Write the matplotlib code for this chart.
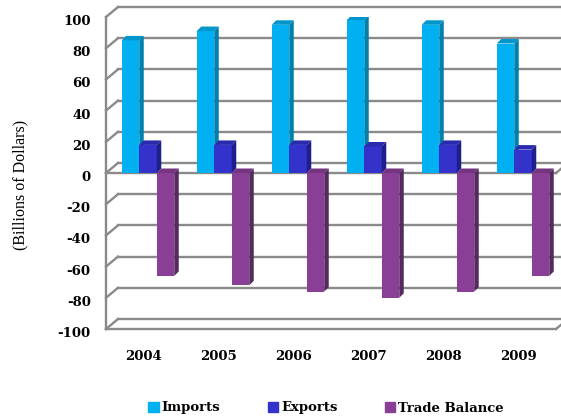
import matplotlib
matplotlib.use("Agg")
import matplotlib.pyplot as plt
from matplotlib.patches import Polygon, Patch
from matplotlib.transforms import ScaledTranslation

years = ["2004", "2005", "2006", "2007", "2008", "2009"]
imports = [85, 91, 95, 98, 95, 83]
exports = [18, 18, 18, 17, 18, 15]
balance = [-66, -72, -76, -80, -76, -66]
series_names = ["Imports", "Exports", "Trade Balance"]
yticks = list(range(-100, 101, 20))

# front face / side / top colours per series
colors = [("#00b0f0", "#0080ad", "#0096cc"),
          ("#3333cc", "#1f1f8c", "#2a2aae"),
          ("#8a3f96", "#552a5e", "#743480")]

W, H = 561, 418
fig = plt.figure(figsize=(W / 100, H / 100), dpi=100)
ax = fig.add_axes([106 / W, 89 / H, 450 / W, 312 / H])
ax.set_xlim(-0.5, 5.5)
ax.set_ylim(-100, 100)

# pixel -> data unit factors
px = 1 / 75.0
py = 200 / 312.0
bx, by = 12 * px, 10 * py      # back wall shift
dx, dy = 4.5 * px, 4.5 * py    # bar depth
w = 17.5 * px
offsets = [-13 * px, 4.5 * px, 22 * px]
gray = "#8a8a8a"

# back wall gridlines + left wall diagonals
for v in yticks:
    ax.plot([-0.5 + bx, 5.5 + bx + 0.2], [v + by, v + by], color=gray, lw=1.7,
            clip_on=False, zorder=1)
    ax.plot([-0.5, -0.5 + bx], [v, v + by], color=gray, lw=1.7, clip_on=False, zorder=1)

# front edges at 0 and at the floor
for v in (0, -100):
    ax.plot([-0.5, 5.5], [v, v], color=gray, lw=1.7, clip_on=False, zorder=2)
    ax.plot([5.5, 5.5 + bx], [v, v + by], color=gray, lw=1.7, clip_on=False, zorder=2)

for k, vals in enumerate([imports, exports, balance]):
    front, side, top = colors[k]
    xs = [i + offsets[k] for i in range(len(years))]
    ax.bar(xs, vals, width=w, color=front, zorder=3 + k, linewidth=0)
    for x, v in zip(xs, vals):
        t = max(v, 0)
        ax.add_patch(Polygon([(x - w / 2, t), (x + w / 2, t), (x + w / 2 + dx, t + dy),
                              (x - w / 2 + dx, t + dy)], closed=True, color=top,
                             lw=0, zorder=3 + k))
        ax.add_patch(Polygon([(x + w / 2, 0), (x + w / 2 + dx, dy), (x + w / 2 + dx, v + dy),
                              (x + w / 2, v)], closed=True, color=side, lw=0, zorder=3 + k))

for s in ["top", "right", "bottom"]:
    ax.spines[s].set_visible(False)
ax.spines["left"].set_color(gray)
ax.spines["left"].set_linewidth(1.7)

tick_font = dict(family="DejaVu Serif", weight="bold", size=9.5)
ax.set_yticks(yticks)
ax.set_yticklabels([f"{v:d}" for v in yticks], **tick_font)
ax.set_xticks(range(len(years)))
ax.set_xticklabels(years, **tick_font)
ax.tick_params(axis="y", length=0, pad=11)
ax.tick_params(axis="x", length=0, pad=15)
for lab in ax.get_yticklabels():
    lab.set_transform(lab.get_transform() + ScaledTranslation(0, -3 / 100, fig.dpi_scale_trans))

fig.text(20 / W, 1 - 185 / H, "(Billions of Dollars)", rotation=90, ha="center", va="center",
         family="Liberation Serif", size=11.5)

handles = [Patch(color=c[0]) for c in colors]
fig.legend(handles, series_names, loc="center", bbox_to_anchor=(326 / W, 1 - 408 / H), ncol=3,
           frameon=False, handlelength=0.8, handleheight=0.8, handletextpad=0.2,
           columnspacing=3.6, prop=dict(family="DejaVu Serif", weight="bold", size=9.5))

fig.savefig("out.png", dpi=100)
